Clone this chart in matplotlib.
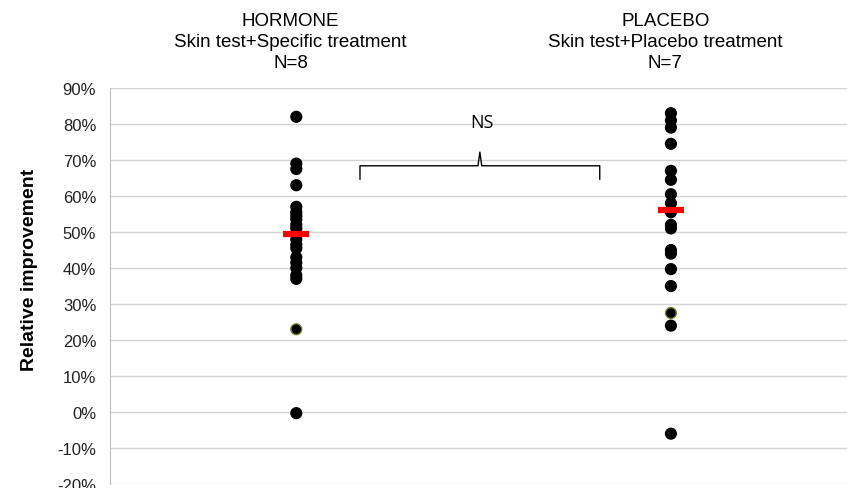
import numpy as np
import matplotlib.pyplot as plt
from matplotlib.ticker import PercentFormatter

groups = ['HORMONE\nSkin test+Specific treatment\nN=8',
          'PLACEBO\nSkin test+Placebo treatment\nN=7']

hormone = [82, 69, 67.5, 63, 57, 55.5, 54.5, 53.5, 52, 51, 49.5, 48, 46.5, 45.5,
           43, 41.5, 40, 38, 37, 23, -0.3]
placebo = [83, 81, 79, 74.5, 67, 64.5, 60.5, 58, 55.5, 52, 51, 45, 44, 39.7, 35,
           27.5, 24, -6]
# points drawn with the olive edge
hormone_edge = [23]
placebo_edge = [27.5]
means = [49.5, 56]

plt.rcParams['font.family'] = ['Liberation Sans', 'DejaVu Sans']
plt.rcParams['axes.unicode_minus'] = False

fig = plt.figure(figsize=(8.47, 4.89), dpi=100)
ax = fig.add_axes([0.13, 0.008, 0.87, 0.81])

for x, vals, edge in [(1, hormone, hormone_edge), (2, placebo, placebo_edge)]:
    v = np.array(vals) / 100
    cols = ['#6b7f1f' if val in edge else 'black' for val in vals]
    ax.scatter(np.full(len(v), x), v, s=60, c='black', edgecolors=cols,
               linewidths=1, zorder=3)

for x, m in zip([1, 2], means):
    ax.plot([x - 0.035, x + 0.035], [m / 100, m / 100], color='red', lw=4.5,
            solid_capstyle='butt', zorder=4)

# bracket with NS label
bx0, bx1, bxm = 1.17, 1.81, 1.49
ax.plot([bx0, bx0, bxm - 0.005, bxm, bxm + 0.005, bx1, bx1],
        [0.647, 0.684, 0.684, 0.722, 0.684, 0.684, 0.647],
        color='black', lw=1, zorder=3)
ax.text(1.495, 0.805, 'NS', ha='center', va='center', fontsize=13,
        family=['Open Sans', 'DejaVu Sans'])

for x, g in zip([1, 2], groups):
    ax.text(x - 0.015, 1.03, g, ha='center', va='center', fontsize=13.5,
            linespacing=1.3)

ax.set_xlim(0.503, 2.47)
ax.set_ylim(-0.2, 0.9)
ax.set_yticks(np.arange(-0.2, 0.91, 0.1))
ax.yaxis.set_major_formatter(PercentFormatter(1.0, decimals=0))
ax.tick_params(axis='y', length=0, labelsize=12, pad=10, labelcolor='#222222')
ax.set_xticks([])
ax.grid(axis='y', color='#d4d4d4', lw=1)
ax.set_axisbelow(True)
for s in ['top', 'right', 'bottom']:
    ax.spines[s].set_visible(False)
ax.spines['left'].set_color('#bfbfbf')
ax.set_ylabel('Relative improvement', fontsize=14, fontweight='bold')
ax.yaxis.set_label_coords(-0.098, 0.543)

fig.savefig('out.png', dpi=100)
